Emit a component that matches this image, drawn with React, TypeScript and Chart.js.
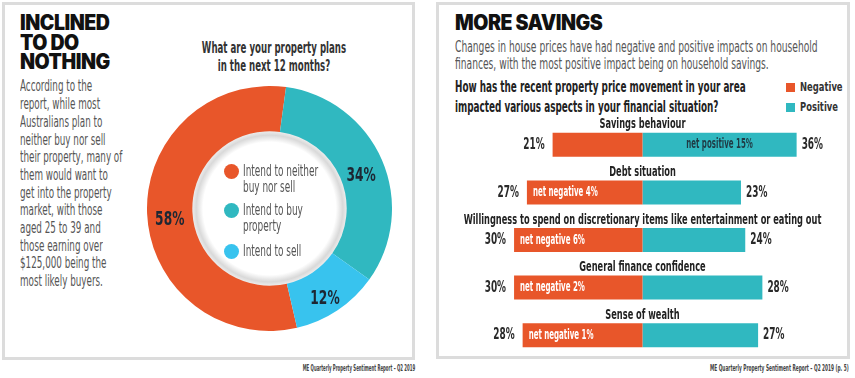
import React, { useEffect, useRef } from 'react';
import { Chart, registerables } from 'chart.js';
Chart.register(...registerables);

const COND = "'Liberation Sans Narrow', 'DejaVu Sans Condensed', Roboto, sans-serif";
const HEAVY = "Inter, 'Liberation Sans', sans-serif";
const SX = 0.62;

const ORANGE = '#E8562A';
const TEAL = '#30B8C0';
const SKY = '#38C3EE';
const NAVY = '#1D2733';

// Left panel
const LEFT_TITLE = ['INCLINED', 'TO DO', 'NOTHING'];
const LEFT_BODY = [
  'According to the',
  'report, while most',
  'Australians plan to',
  'neither buy nor sell',
  'their property, many of',
  'them would want to',
  'get into the property',
  'market, with those',
  'aged 25 to 39 and',
  'those earning over',
  '$125,000 being the',
  'most likely buyers.',
];
const DONUT_TITLE = ['What are your property plans', 'in the next 12 months?'];
const DONUT_LEGEND = [['Intend to neither', 'buy nor sell'], ['Intend to buy', 'property'], ['Intend to sell']];
const DONUT_VALUES = [58, 34, 12];
const DONUT_COLORS = [ORANGE, TEAL, SKY];

// Right panel
const RIGHT_TITLE = 'MORE SAVINGS';
const RIGHT_SUB = [
  'Changes in house prices have had negative and positive impacts on household',
  'finances, with the most positive impact being on household savings.',
];
const RIGHT_QUESTION = [
  'How has the recent property price movement in your area',
  'impacted various aspects in your financial situation?',
];
const BAR_CATEGORIES = [
  'Savings behaviour',
  'Debt situation',
  'Willingness to spend on discretionary items like entertainment or eating out',
  'General finance confidence',
  'Sense of wealth',
];
const NEGATIVE = [21, 27, 30, 30, 28];
const POSITIVE = [36, 23, 24, 28, 27];
const SERIES_NAMES = ['Negative', 'Positive'];

const FOOT_LEFT = 'ME Quarterly Property Sentiment Report – Q2 2019';
const FOOT_RIGHT = 'ME Quarterly Property Sentiment Report – Q2 2019 (p. 5)';

function Txt(props: any) {
  const { x, y, size, weight = 400, color = '#555', align = 'left', sx = SX, font = COND, children, ls } = props;
  const style: any = {
    position: 'absolute',
    top: y - size * 0.6,
    height: size * 1.2,
    lineHeight: size * 1.2 + 'px',
    fontSize: size,
    fontFamily: font,
    fontWeight: weight,
    color,
    whiteSpace: 'nowrap',
    letterSpacing: ls,
  };
  if (align === 'left') {
    style.left = x;
    style.transform = `scaleX(${sx})`;
    style.transformOrigin = 'left center';
  } else if (align === 'right') {
    style.right = 855 - x;
    style.transform = `scaleX(${sx})`;
    style.transformOrigin = 'right center';
  } else {
    style.left = x;
    style.transform = `translateX(-50%) scaleX(${sx})`;
    style.transformOrigin = 'center center';
  }
  return <div style={style}>{children}</div>;
}

function condText(ctx: CanvasRenderingContext2D, text: string, x: number, y: number, align: CanvasTextAlign, font: string, color: string, sx = SX) {
  ctx.save();
  ctx.font = font;
  ctx.fillStyle = color;
  ctx.textAlign = align;
  ctx.textBaseline = 'middle';
  ctx.translate(x, y);
  ctx.scale(sx, 1);
  ctx.fillText(text, 0, 0);
  ctx.restore();
}

function Donut() {
  const ref = useRef<HTMLCanvasElement>(null);
  useEffect(() => {
    const innerPlugin = {
      id: 'inner',
      beforeDatasetsDraw(chart: any) {
        const arc = chart.getDatasetMeta(0).data[0];
        if (!arc) return;
        const { x, y, innerRadius } = arc;
        const ctx = chart.ctx;
        const g = ctx.createRadialGradient(x, y, 0, x, y, innerRadius);
        g.addColorStop(0, '#ffffff');
        g.addColorStop(0.86, '#ffffff');
        g.addColorStop(0.95, '#d9d9d9');
        g.addColorStop(1, '#ececec');
        ctx.save();
        ctx.beginPath();
        ctx.arc(x, y, innerRadius + 1, 0, Math.PI * 2);
        ctx.fillStyle = g;
        ctx.fill();
        ctx.restore();
      },
      afterDatasetsDraw(chart: any) {
        const meta = chart.getDatasetMeta(0);
        meta.data.forEach((arc: any, i: number) => {
          const p = arc.tooltipPosition();
          condText(chart.ctx, DONUT_VALUES[i] + '%', p.x, p.y + 7, 'center', `bold 20px ${COND}`, NAVY, 0.68);
        });
      },
    };
    const chart = new Chart(ref.current!, {
      type: 'doughnut',
      data: {
        labels: DONUT_LEGEND.map((l) => l.join(' ')),
        datasets: [{ data: DONUT_VALUES, backgroundColor: DONUT_COLORS, borderWidth: 0 }],
      },
      options: {
        responsive: false,
        animation: false,
        rotation: 167,
        cutout: '63%',
        layout: { padding: 0 },
        plugins: { legend: { display: false }, tooltip: { enabled: false } },
      },
      plugins: [innerPlugin],
    });
    return () => chart.destroy();
  }, []);
  return <canvas ref={ref} width={245} height={245} style={{ position: 'absolute', left: 147, top: 86 }} />;
}

function Bars() {
  const ref = useRef<HTMLCanvasElement>(null);
  useEffect(() => {
    const labelPlugin = {
      id: 'barLabels',
      afterDatasetsDraw(chart: any) {
        const ctx = chart.ctx;
        const neg = chart.getDatasetMeta(0).data;
        const pos = chart.getDatasetMeta(1).data;
        const zero = chart.scales.x.getPixelForValue(0);
        BAR_CATEGORIES.forEach((cat, i) => {
          const n = neg[i];
          const p = pos[i];
          const h = n.height;
          condText(ctx, cat, zero, n.y - h / 2 - 8, 'center', `bold 14px ${COND}`, '#222', 0.655);
          condText(ctx, NEGATIVE[i] + '%', n.x - 8, n.y, 'right', `bold 16px ${COND}`, '#2a2a2a', 0.62);
          condText(ctx, POSITIVE[i] + '%', p.x + 5, p.y, 'left', `bold 16px ${COND}`, '#2a2a2a', 0.62);
          const net = POSITIVE[i] - NEGATIVE[i];
          if (net > 0) {
            condText(ctx, `net positive ${net}%`, (p.x + p.base) / 2, p.y, 'center', `bold 14px ${COND}`, '#1f3a44', 0.56);
          } else {
            condText(ctx, `net negative ${-net}%`, n.x + 6, n.y, 'left', `bold 14px ${COND}`, '#ffffff', 0.56);
          }
        });
      },
    };
    const chart = new Chart(ref.current!, {
      type: 'bar',
      data: {
        labels: BAR_CATEGORIES,
        datasets: [
          { label: SERIES_NAMES[0], data: NEGATIVE.map((v) => -v), backgroundColor: ORANGE, borderWidth: 0 },
          { label: SERIES_NAMES[1], data: POSITIVE, backgroundColor: TEAL, borderWidth: 0 },
        ],
      },
      options: {
        indexAxis: 'y',
        responsive: false,
        animation: false,
        layout: { padding: { top: 16, left: 0, right: 0, bottom: 0 } },
        datasets: { bar: { barPercentage: 0.505, categoryPercentage: 1 } },
        plugins: { legend: { display: false }, tooltip: { enabled: false } },
        scales: {
          x: { stacked: true, min: -48, max: 48, display: false },
          y: { stacked: true, display: false },
        },
      },
      plugins: [labelPlugin],
    });
    return () => chart.destroy();
  }, []);
  return <canvas ref={ref} width={411} height={254} style={{ position: 'absolute', left: 437, top: 105 }} />;
}

export default function App() {
  const legendY = [[171, 187], [210, 226], [251]];
  return (
    <div style={{ position: 'absolute', left: 0, top: 0, width: 855, height: 378, background: '#fff', overflow: 'hidden' }}>
      {/* panels */}
      <div style={{ position: 'absolute', left: 2, top: 2, width: 407, height: 352, border: '3px solid #dcdcdc' }} />
      <div style={{ position: 'absolute', left: 436, top: 2, width: 408, height: 351, border: '3px solid #dcdcdc' }} />

      {/* left panel */}
      {LEFT_TITLE.map((t, i) => (
        <Txt key={t} x={20} y={23 + i * 19.5} size={21} weight={900} color="#111" font={HEAVY} sx={0.93} ls={-0.5}>{t}</Txt>
      ))}
      {LEFT_BODY.map((t, i) => (
        <Txt key={i} x={20} y={86 + i * 17.7} size={16} color="#555" sx={0.61}>{t}</Txt>
      ))}
      {DONUT_TITLE.map((t, i) => (
        <Txt key={i} x={274} y={48 + i * 18} size={16} weight={700} color="#333" align="center" sx={0.6}>{t}</Txt>
      ))}
      <Donut />
      {DONUT_LEGEND.map((lines, i) => (
        <React.Fragment key={i}>
          <div style={{ position: 'absolute', left: 224, top: legendY[i][0] - 7.5, width: 15, height: 15, borderRadius: '50%', background: DONUT_COLORS[i] }} />
          {lines.map((l, j) => (
            <Txt key={j} x={243} y={legendY[i][j]} size={16} color="#555" sx={0.62}>{l}</Txt>
          ))}
        </React.Fragment>
      ))}
      <Txt x={415} y={368} size={9} weight={700} color="#444" align="right" sx={0.48}>{FOOT_LEFT}</Txt>

      {/* right panel */}
      <Txt x={455} y={23} size={21} weight={900} color="#111" font={HEAVY} sx={0.93} ls={-0.5}>{RIGHT_TITLE}</Txt>
      {RIGHT_SUB.map((t, i) => (
        <Txt key={i} x={455} y={47 + i * 17} size={16} color="#555" sx={0.635}>{t}</Txt>
      ))}
      {RIGHT_QUESTION.map((t, i) => (
        <Txt key={i} x={455} y={87 + i * 20} size={16} weight={700} color="#222" sx={0.614}>{t}</Txt>
      ))}
      {SERIES_NAMES.map((s, i) => (
        <React.Fragment key={s}>
          <div style={{ position: 'absolute', left: 786, top: 83 + i * 20, width: 9, height: 9, background: i === 0 ? ORANGE : TEAL }} />
          <Txt x={800} y={87 + i * 20} size={13} weight={700} color="#333" sx={0.72}>{s}</Txt>
        </React.Fragment>
      ))}
      <Bars />
      <Txt x={849} y={368} size={9} weight={700} color="#444" align="right" sx={0.53}>{FOOT_RIGHT}</Txt>
    </div>
  );
}
